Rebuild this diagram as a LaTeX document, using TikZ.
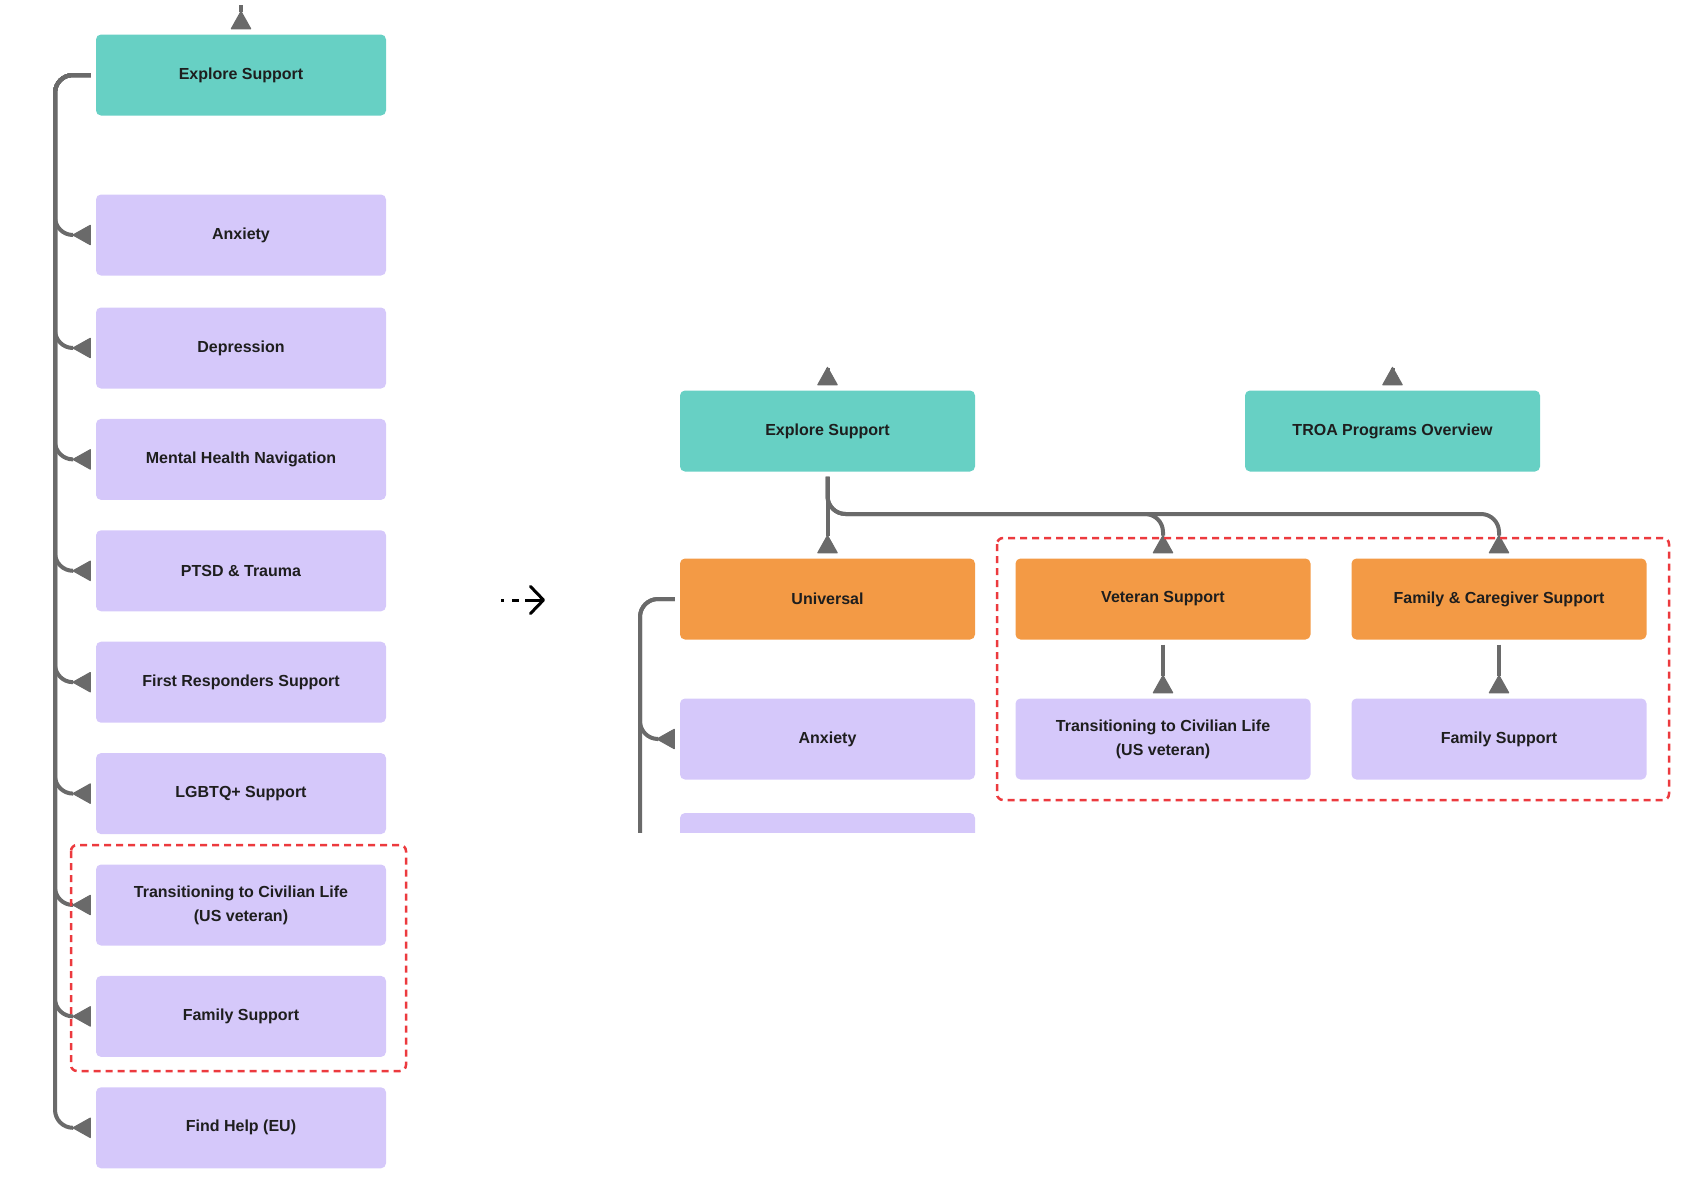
\documentclass[tikz,border=0pt]{standalone}
\usepackage{fontspec}
\setmainfont{Liberation Sans}
\usetikzlibrary{positioning, arrows.meta}
\definecolor{tealbox}{HTML}{67D0C4}
\definecolor{orangebox}{HTML}{F39A45}
\definecolor{lilacbox}{HTML}{D5C8FA}
\definecolor{wire}{HTML}{6A6A6A}
\definecolor{marker}{HTML}{EC3A3E}
\definecolor{ink}{HTML}{1E1E1E}
\begin{document}
\begin{tikzpicture}[
        x=1pt, y=-1pt,
        box/.style={rectangle, rounded corners=5pt, minimum width=290pt, minimum height=81pt, inner sep=0pt, align=center, text=ink, font=\fontsize{16}{24}\selectfont\bfseries},
        root/.style={box, fill=tealbox},
        branch/.style={box, fill=orangebox},
        leaf/.style={box, fill=lilacbox},
        link/.style={draw=wire, line width=4pt, rounded corners=18pt, shorten <=5pt, shorten >=5pt, -{Triangle[reversed, length=19pt, width=21pt, line width=1pt, round]}},
        frame/.style={draw=marker, line width=2.5pt, dash pattern=on 7pt off 5pt, rounded corners=6pt},
        hint/.style={draw=black, line width=3pt, dash pattern=on 3pt off 8pt on 7pt off 6pt on 40pt, -{Straight Barb[length=13pt, width=27pt, round]}},
        node distance=30pt
    ]
    \useasboundingbox (0,0) rectangle (1698,1200);

    \node[root] (esL) at (241,75) {Explore Support};
    \node[leaf] (anxL) at (241,235) {Anxiety};
    \node[leaf] (depL) at (241,348) {Depression};
    \node[leaf, below=of depL] (mhnL) {Mental Health Navigation};
    \node[leaf, below=of mhnL] (ptsdL) {PTSD \& Trauma};
    \node[leaf, below=of ptsdL] (frsL) {First Responders Support};
    \node[leaf, below=of frsL] (lgbtL) {LGBTQ+ Support};
    \node[leaf, below=of lgbtL] (tclL) {Transitioning to Civilian Life\\(US veteran)};
    \node[leaf, below=of tclL] (famL) {Family Support};
    \node[leaf, below=of famL] (fhL) {Find Help (EU)};
    \coordinate (upL) at (241,0);
    \coordinate (spineL) at (55,75);

    \draw[link] (upL) -- (esL);
    \draw[link] (esL.west) -- (spineL) |- (anxL.west);
    \draw[link] (esL.west) -- (spineL) |- (depL.west);
    \draw[link] (esL.west) -- (spineL) |- (mhnL.west);
    \draw[link] (esL.west) -- (spineL) |- (ptsdL.west);
    \draw[link] (esL.west) -- (spineL) |- (frsL.west);
    \draw[link] (esL.west) -- (spineL) |- (lgbtL.west);
    \draw[link] (esL.west) -- (spineL) |- (tclL.west);
    \draw[link] (esL.west) -- (spineL) |- (famL.west);
    \draw[link] (esL.west) -- (spineL) |- (fhL.west);
    \draw[frame] (71,845) rectangle (406,1071);

    \coordinate (gapA) at (501,600);
    \coordinate (gapB) at (545,600);
    \draw[hint] (gapA) -- (gapB);

    \begin{scope}[box/.append style={minimum width=295pt}]
    \node[root] (esR) at (827.5,431) {Explore Support};
    \node[root] (troa) at (1392.5,431) {TROA Programs Overview};
    \node[branch] (uni) at (827.5,599) {Universal};
    \node[branch] (vet) at (1163,599) {Veteran Support};
    \node[branch] (fcs) at (1499,599) {Family \& Caregiver Support};
    \node[leaf] (anxR) at (827.5,739) {Anxiety};
    \node[leaf] (tclR) at (1163,739) {Transitioning to Civilian Life\\(US veteran)};
    \node[leaf] (famR) at (1499,739) {Family Support};
    \end{scope}
    \coordinate (upR) at (827.5,365);
    \coordinate (upT) at (1392.5,365);
    \coordinate (bus) at (827.5,514);
    \coordinate (spineR) at (640,599);

    \draw[link] (upR) -- (esR);
    \draw[link] (upT) -- (troa);
    \draw[link] (esR) -- (uni);
    \draw[link] (esR) -- (bus) -| (vet);
    \draw[link] (esR) -- (bus) -| (fcs);
    \draw[link] (vet) -- (tclR);
    \draw[link] (fcs) -- (famR);
    \draw[link] (uni.west) -- (spineR) |- (anxR.west);
    \begin{scope}
    \clip (600,580) rectangle (1000,832);
    \node[leaf, minimum width=295pt] (nextR) at (827.5,853.5) {};
    \draw[link] (uni.west) -- (spineR) |- (nextR.west);
    \end{scope}
    \draw[frame] (997,538) rectangle (1669,800);

\end{tikzpicture}
\end{document}
